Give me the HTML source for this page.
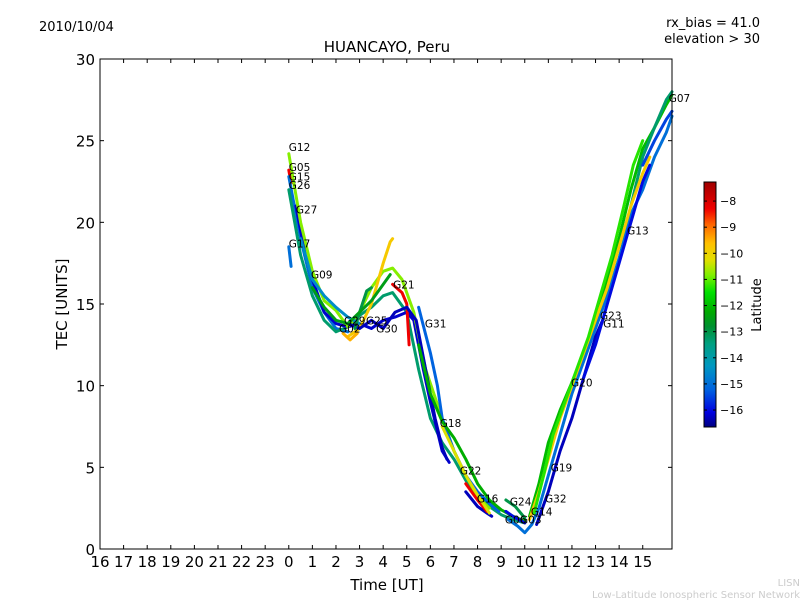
<!DOCTYPE html>
<html><head><meta charset="utf-8"><style>
body{margin:0;background:#fff}
svg{display:block;font-family:"DejaVu Sans","Liberation Sans",sans-serif}
</style></head><body>
<svg id="chart" width="800" height="600" viewBox="0 0 800 600" xmlns="http://www.w3.org/2000/svg">
<rect width="800" height="600" fill="#fff"/>
<text x="39" y="31" font-size="13">2010/10/04</text>
<text x="760" y="27" font-size="13" text-anchor="end">rx_bias = 41.0</text>
<text x="760" y="43" font-size="13" text-anchor="end">elevation &gt; 30</text>
<text x="387" y="52" font-size="15" text-anchor="middle">HUANCAYO, Peru</text>
<g id="plot"></g>
<text transform="translate(67,304) rotate(-90)" font-size="15" text-anchor="middle">TEC [UNITS]</text>
<text x="387" y="590" font-size="15" text-anchor="middle">Time [UT]</text>
<g id="cbar"></g>
<text transform="translate(761,305) rotate(-90)" font-size="13" text-anchor="middle">Latitude</text>
<text x="800" y="586" font-size="10" fill="#ccc" text-anchor="end">LISN</text>
<text x="800" y="598" font-size="10" fill="#ccc" text-anchor="end">Low-Latitude Ionospheric Sensor Network</text>
</svg>
<script>
const xTickLabels=["16","17","18","19","20","21","22","23","0","1","2","3","4","5","6","7","8","9","10","11","12","13","14","15"];
const yTicks=[0,5,10,15,20,25,30];
const cbTicks=[-8,-9,-10,-11,-12,-13,-14,-15,-16];
const traceLat=[-8.3,-15,-13.3,-16.2,-10.8,-14.5,-9.8,-15,-8.3,-15.2,-16.3,-13,-12.2,-16.3,-8.3,-10.3,-16,-15,-13,-12,-16.3,-16,-13.3,-9.8,-15.5,-9.5,-11.3,-12.5];
const traceData=[
[[0,23.2],[0.1,22.4]],
[[0,22.8],[0.5,19],[1,16],[1.5,14.5],[2,13.5],[2.5,13.3]],
[[0,22],[0.5,18],[1,15.5],[1.5,14],[2,13.3],[2.5,13.6],[3,14.3],[3.5,14.8],[4,15.5],[4.4,15.7],[5,14.5],[5.5,11],[6,8],[6.5,6.5],[7,5.5],[7.5,4.2],[8,3.3],[8.5,2.6],[9,2.1],[9.5,1.8],[10,1.6]],
[[0.3,21],[0.7,18],[1,16.5],[1.5,14.5],[2,13.8],[2.5,13.6],[3,13.8],[3.5,13.5],[4,14],[4.5,14.2],[5,14.5],[5.3,14],[5.7,11],[6,9],[6.5,6],[6.8,5.3]],
[[0,24.2],[0.5,20],[1,17],[1.5,15.2],[2,14.6],[2.5,13.6],[3,14.5],[3.5,16],[4,17],[4.4,17.2],[4.8,16.5],[5.3,14.5],[5.8,11],[6.5,8],[7,6],[7.5,4.5],[8,3.2],[8.5,2.5]],
[[0.5,19],[1,16.5],[1.5,15.5],[2,14.8],[2.5,14.2],[3,13.8]],
[[2.5,13],[3,13.5],[3.5,15],[4,17.5],[4.3,18.8],[4.4,19]],
[[0,18.5],[0.1,17.3]],
[[4.4,16.2],[4.8,15.7],[5,15],[5.1,12.5]],
[[5.5,14.8],[6,12],[6.3,10],[6.5,8],[7,6],[7.5,4.5],[8,3.5],[8.5,2.8],[8.9,2.3]],
[[2.5,13.8],[3,13.5],[3.5,14],[4,13.5],[4.5,14.5],[5,14.8],[5.4,14],[5.8,11],[6.2,8],[6.5,6.2],[6.7,5.5]],
[[2.8,13.5],[3,14.5],[3.3,15.8],[3.5,16]],
[[5.5,12.5],[6,9.5],[6.5,7.8],[7,6.8],[7.5,5.5],[8,4],[8.5,3],[9,2.4],[9.5,2],[10,1.7]],
[[7.5,3.5],[8,2.6],[8.4,2.2],[8.6,2]],
[[7.5,4],[8,3],[8.4,2.3]],
[[6.5,7.5],[7,6],[7.5,4.5],[8,3.3],[8.5,2.2]],
[[9.2,2.3],[9.5,2],[10,1.6]],
[[9.3,1.8],[9.7,1.4],[10,1],[10.3,1.5],[10.6,2.5],[11,4.5],[11.5,7],[12,9.5],[12.5,11.5],[13,13.5],[13.5,15.5],[14,17.8],[14.5,20.5],[15,22],[15.5,24],[16,25.5],[16.24,26.5]],
[[9.2,3],[9.6,2.6],[10,1.9]],
[[10.2,2],[10.6,4],[11,6.5],[11.5,8.5],[12,10.2],[12.5,12],[13,14],[13.5,16.5],[14,19],[14.5,22],[15,24.5],[15.5,25.8],[16,27.2],[16.24,27.8]],
[[10.5,1.5],[11,3.5],[11.5,6],[12,8],[12.5,10.5],[13,13],[13.3,14]],
[[12.5,10.5],[13,12.5],[13.5,15],[14,17.5],[14.5,20],[15,22.5],[15.3,23.5]],
[[14.5,21],[15,24],[15.5,25.8],[16,27.5],[16.24,28]],
[[10.2,1.8],[10.6,3.5],[11,5.5],[11.5,8],[12,10],[12.5,12],[13,14],[13.5,16],[14,18.5],[14.5,21],[15,23],[15.3,24]],
[[15,23.5],[15.5,25],[16,26.3],[16.24,26.8]],
[[2.3,13.2],[2.6,12.8],[2.9,13.2]],
[[10.4,2.2],[10.8,4.5],[11.2,7],[11.7,9],[12.2,11],[12.7,13],[13.2,15.5],[13.7,18],[14.2,21],[14.6,23.5],[15,25]],
[[1,16],[1.5,14.8],[2,14],[2.5,13.8],[3,14.5],[3.5,15.2],[4,16.2],[4.3,16.8]]
];
const labelNames=["G12","G05","G15","G26","G27","G17","G09","G21","G29","G25","G02","G30","G31","G18","G22","G16","G24","G06","G03","G14","G32","G19","G20","G23","G11","G13","G07"];
const labelT=[0,0,0,0,0.3,0,0.94,4.42,2.34,3.27,2.13,3.7,5.77,6.4,7.25,7.97,9.37,9.16,9.8,10.26,10.86,11.1,11.96,13.19,13.32,14.34,16.1];
const labelV=[24.6,23.4,22.8,22.3,20.8,18.7,16.8,16.2,14.0,14.0,13.5,13.5,13.8,7.7,4.8,3.1,2.9,1.8,1.8,2.3,3.1,5.0,10.2,14.3,13.8,19.5,27.6];

const NS="http://www.w3.org/2000/svg";
const L=100,R=672,T=59,B=549;
const tMin=-8,tMax=16.24,vMin=0,vMax=30;
const xS=t=>L+(t-tMin)/(tMax-tMin)*(R-L);
const yS=v=>B-(v-vMin)/(vMax-vMin)*(B-T);
const cTop=182,cBot=427,latMax=-7.27,latMin=-16.65;
const cY=l=>cTop+(latMax-l)/(latMax-latMin)*(cBot-cTop);
const cmapStops=[[0,[0,0,128]],[0.06,[0,0,224]],[0.15,[0,96,224]],[0.25,[0,152,192]],[0.34,[0,160,128]],[0.41,[0,144,48]],[0.47,[0,170,0]],[0.55,[0,224,0]],[0.62,[128,240,0]],[0.68,[224,224,0]],[0.75,[255,192,0]],[0.83,[255,96,0]],[0.89,[240,0,0]],[1,[160,0,0]]];
function cmap(f){f=Math.max(0,Math.min(1,f));
 for(let i=1;i<cmapStops.length;i++){const a=cmapStops[i-1],b=cmapStops[i];
  if(f<=b[0]){const u=(f-a[0])/(b[0]-a[0]);return 'rgb('+a[1].map((c,k)=>Math.round(c+(b[1][k]-c)*u)).join(',')+')';}}
 return 'rgb(160,0,0)';}
const latColor=l=>cmap((l-latMin)/(latMax-latMin));
function mk(tag,attrs,parent){const e=document.createElementNS(NS,tag);for(const k in attrs)e.setAttribute(k,attrs[k]);parent.appendChild(e);return e;}
const plot=document.getElementById('plot');
mk('rect',{x:L,y:T,width:R-L,height:B-T,fill:'#fff'},plot);
traceData.forEach((tr,i)=>{
 const p=mk('polyline',{points:tr.map(d=>xS(d[0]).toFixed(1)+','+yS(d[1]).toFixed(1)).join(' '),fill:'none',stroke:latColor(traceLat[i]),'stroke-width':3,'stroke-linejoin':'round','stroke-linecap':'round'},plot);
 
 
});
labelNames.forEach((n,i)=>{
 const t=mk('text',{x:xS(labelT[i]),y:yS(labelV[i])+4,'font-size':10.5},plot);
 t.textContent=n;
 
 
});
mk('rect',{x:L,y:T,width:R-L,height:B-T,fill:'none',stroke:'#000','stroke-width':1},plot);
xTickLabels.forEach((s,i)=>{
 const x=xS(tMin+i);
 mk('line',{x1:x,x2:x,y1:B,y2:B-4,stroke:'#000'},plot);
 mk('line',{x1:x,x2:x,y1:T,y2:T+4,stroke:'#000'},plot);
 const t=mk('text',{x:x,y:B+18,'font-size':15,'text-anchor':'middle'},plot);
 t.textContent=s;
 
 
});
yTicks.forEach(v=>{
 const y=yS(v);
 mk('line',{x1:L,x2:L+4,y1:y,y2:y,stroke:'#000'},plot);
 mk('line',{x1:R,x2:R-4,y1:y,y2:y,stroke:'#000'},plot);
 const t=mk('text',{x:L-5,y:y+6,'font-size':15,'text-anchor':'end'},plot);
 t.textContent=v;
 
 
});
const cb=document.getElementById('cbar');
const defs=mk('defs',{},cb);
const g=mk('linearGradient',{id:'cmapg',x1:0,y1:1,x2:0,y2:0},defs);
cmapStops.forEach(s=>mk('stop',{offset:s[0],'stop-color':'rgb('+s[1].join(',')+')'},g));
mk('rect',{x:704,y:cTop,width:12,height:cBot-cTop,fill:'url(#cmapg)',stroke:'#000','stroke-width':1},cb);
cbTicks.forEach(l=>{
 const y=cY(l);
 mk('line',{x1:704,x2:707,y1:y,y2:y,stroke:'#000'},cb);
 mk('line',{x1:716,x2:713,y1:y,y2:y,stroke:'#000'},cb);
 const t=mk('text',{x:720,y:y+4,'font-size':11},cb);
 t.textContent='\u2212'+Math.abs(l);
 
 
});
</script>
</body></html>
